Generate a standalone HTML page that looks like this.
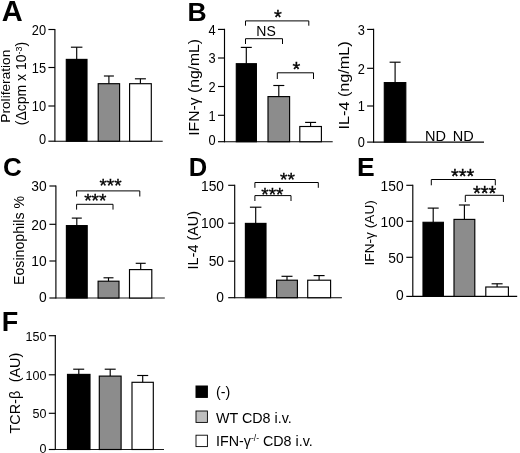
<!DOCTYPE html>
<html><head><meta charset="utf-8"><title>Figure</title>
<style>
html,body{margin:0;padding:0;background:#fff;}
svg{display:block;will-change:transform;font-family:"Liberation Sans",Arial,sans-serif;fill:#000;}
</style></head><body>
<svg width="520" height="453" viewBox="0 0 520 453">
<rect x="0" y="0" width="520" height="453" fill="#fff"/>
<line x1="54.9" y1="28.9" x2="54.9" y2="141.8" stroke="#000" stroke-width="1.15"/>
<line x1="54.9" y1="141.2" x2="162.7" y2="141.2" stroke="#000" stroke-width="1.15"/>
<line x1="48.4" y1="29.5" x2="54.9" y2="29.5" stroke="#000" stroke-width="1.15"/>
<text transform="translate(46.1 34.7) scale(0.93 1)" font-size="13.8" text-anchor="end" font-weight="normal">20</text>
<line x1="48.4" y1="67.5" x2="54.9" y2="67.5" stroke="#000" stroke-width="1.15"/>
<text transform="translate(46.1 72.7) scale(0.93 1)" font-size="13.8" text-anchor="end" font-weight="normal">15</text>
<line x1="48.4" y1="106.0" x2="54.9" y2="106.0" stroke="#000" stroke-width="1.15"/>
<text transform="translate(46.1 111.2) scale(0.93 1)" font-size="13.8" text-anchor="end" font-weight="normal">10</text>
<line x1="48.4" y1="141.2" x2="54.9" y2="141.2" stroke="#000" stroke-width="1.15"/>
<text transform="translate(46.1 144.4) scale(0.93 1)" font-size="13.8" text-anchor="end" font-weight="normal">0</text>
<line x1="76.7" y1="47.2" x2="76.7" y2="59.4" stroke="#000" stroke-width="1.15"/>
<line x1="70.9" y1="47.2" x2="82.4" y2="47.2" stroke="#000" stroke-width="1.15"/>
<rect x="66.3" y="59.4" width="20.7" height="81.8" fill="#000" stroke="#000" stroke-width="1.15"/>
<line x1="108.9" y1="76.0" x2="108.9" y2="83.7" stroke="#000" stroke-width="1.15"/>
<line x1="103.9" y1="76.0" x2="113.9" y2="76.0" stroke="#000" stroke-width="1.15"/>
<rect x="98.2" y="83.7" width="21.4" height="57.5" fill="#8c8c8c" stroke="#000" stroke-width="1.15"/>
<line x1="140.4" y1="78.8" x2="140.4" y2="83.7" stroke="#000" stroke-width="1.15"/>
<line x1="134.9" y1="78.8" x2="145.9" y2="78.8" stroke="#000" stroke-width="1.15"/>
<rect x="129.6" y="83.7" width="21.7" height="57.5" fill="#fff" stroke="#000" stroke-width="1.15"/>
<text transform="translate(1.8 20.6)" font-size="29" text-anchor="start" font-weight="bold">A</text>
<text transform="translate(9.9 86.2) rotate(-90)" font-size="13.7" text-anchor="middle" font-weight="normal">Proliferation</text>
<text transform="translate(26.3 83.5) rotate(-90)" font-size="14" text-anchor="middle" font-weight="normal">(Δcpm x 10<tspan font-size="9" dy="-4">-3</tspan><tspan dy="4">)</tspan></text>
<line x1="224.5" y1="28.8" x2="224.5" y2="142.3" stroke="#000" stroke-width="1.15"/>
<line x1="224.5" y1="141.7" x2="332.7" y2="141.7" stroke="#000" stroke-width="1.15"/>
<line x1="218.0" y1="29.4" x2="224.5" y2="29.4" stroke="#000" stroke-width="1.15"/>
<text transform="translate(215.7 34.6) scale(0.93 1)" font-size="13.8" text-anchor="end" font-weight="normal">4</text>
<line x1="218.0" y1="58.0" x2="224.5" y2="58.0" stroke="#000" stroke-width="1.15"/>
<text transform="translate(215.7 63.2) scale(0.93 1)" font-size="13.8" text-anchor="end" font-weight="normal">3</text>
<line x1="218.0" y1="86.5" x2="224.5" y2="86.5" stroke="#000" stroke-width="1.15"/>
<text transform="translate(215.7 91.7) scale(0.93 1)" font-size="13.8" text-anchor="end" font-weight="normal">2</text>
<line x1="218.0" y1="115.3" x2="224.5" y2="115.3" stroke="#000" stroke-width="1.15"/>
<text transform="translate(215.7 120.5) scale(0.93 1)" font-size="13.8" text-anchor="end" font-weight="normal">1</text>
<line x1="218.0" y1="141.7" x2="224.5" y2="141.7" stroke="#000" stroke-width="1.15"/>
<text transform="translate(215.7 144.6) scale(0.93 1)" font-size="13.8" text-anchor="end" font-weight="normal">0</text>
<line x1="246.3" y1="47.4" x2="246.3" y2="63.7" stroke="#000" stroke-width="1.15"/>
<line x1="240.8" y1="47.4" x2="251.8" y2="47.4" stroke="#000" stroke-width="1.15"/>
<rect x="236.3" y="63.7" width="20.1" height="78.0" fill="#000" stroke="#000" stroke-width="1.15"/>
<line x1="278.8" y1="85.5" x2="278.8" y2="96.6" stroke="#000" stroke-width="1.15"/>
<line x1="273.3" y1="85.5" x2="284.3" y2="85.5" stroke="#000" stroke-width="1.15"/>
<rect x="268.0" y="96.6" width="21.6" height="45.1" fill="#8c8c8c" stroke="#000" stroke-width="1.15"/>
<line x1="310.6" y1="122.4" x2="310.6" y2="126.5" stroke="#000" stroke-width="1.15"/>
<line x1="305.1" y1="122.4" x2="316.1" y2="122.4" stroke="#000" stroke-width="1.15"/>
<rect x="299.8" y="126.5" width="21.6" height="15.2" fill="#fff" stroke="#000" stroke-width="1.15"/>
<polyline points="245.5,25.7 245.5,20.9 308.8,20.9 308.8,25.7" fill="none" stroke="#000" stroke-width="1.0"/>
<text transform="translate(278.0 23.6)" font-size="20" text-anchor="middle" font-weight="normal" stroke="#000" stroke-width="0.35">*</text>
<polyline points="245.5,44.0 245.5,38.7 282.5,38.7 282.5,44.0" fill="none" stroke="#000" stroke-width="1.0"/>
<text transform="translate(266.0 36.3)" font-size="14" text-anchor="middle" font-weight="normal">NS</text>
<polyline points="277.3,79.0 277.3,72.8 313.5,72.8 313.5,79.0" fill="none" stroke="#000" stroke-width="1.0"/>
<text transform="translate(296.3 76.3)" font-size="20" text-anchor="middle" font-weight="normal" stroke="#000" stroke-width="0.35">*</text>
<text transform="translate(187.4 20.6)" font-size="26.5" text-anchor="start" font-weight="bold">B</text>
<text transform="translate(199.0 87.4) rotate(-90) scale(1.06 1)" font-size="14.8" text-anchor="middle" font-weight="normal">IFN-γ (ng/mL)</text>
<line x1="373.6" y1="28.8" x2="373.6" y2="142.7" stroke="#000" stroke-width="1.15"/>
<line x1="373.6" y1="142.1" x2="484.0" y2="142.1" stroke="#000" stroke-width="1.15"/>
<line x1="367.1" y1="29.4" x2="373.6" y2="29.4" stroke="#000" stroke-width="1.15"/>
<text transform="translate(364.8 34.6) scale(0.93 1)" font-size="13.8" text-anchor="end" font-weight="normal">3</text>
<line x1="367.1" y1="68.3" x2="373.6" y2="68.3" stroke="#000" stroke-width="1.15"/>
<text transform="translate(364.8 73.5) scale(0.93 1)" font-size="13.8" text-anchor="end" font-weight="normal">2</text>
<line x1="367.1" y1="106.0" x2="373.6" y2="106.0" stroke="#000" stroke-width="1.15"/>
<text transform="translate(364.8 111.2) scale(0.93 1)" font-size="13.8" text-anchor="end" font-weight="normal">1</text>
<line x1="367.1" y1="142.1" x2="373.6" y2="142.1" stroke="#000" stroke-width="1.15"/>
<text transform="translate(364.8 146.5) scale(0.93 1)" font-size="13.8" text-anchor="end" font-weight="normal">0</text>
<line x1="395.1" y1="62.2" x2="395.1" y2="82.6" stroke="#000" stroke-width="1.15"/>
<line x1="389.6" y1="62.2" x2="400.6" y2="62.2" stroke="#000" stroke-width="1.15"/>
<rect x="384.3" y="82.6" width="21.5" height="59.5" fill="#000" stroke="#000" stroke-width="1.15"/>
<text transform="translate(435.4 141.2)" font-size="14.5" text-anchor="middle" font-weight="normal">ND</text>
<text transform="translate(463.3 141.2)" font-size="14.5" text-anchor="middle" font-weight="normal">ND</text>
<text transform="translate(349.4 85.4) rotate(-90) scale(1.08 1)" font-size="15" text-anchor="middle" font-weight="normal">IL-4 (ng/mL)</text>
<line x1="55.9" y1="185.4" x2="55.9" y2="298.6" stroke="#000" stroke-width="1.15"/>
<line x1="55.9" y1="298.0" x2="164.8" y2="298.0" stroke="#000" stroke-width="0.9"/>
<line x1="49.4" y1="186.0" x2="55.9" y2="186.0" stroke="#000" stroke-width="1.15"/>
<text transform="translate(46.6 191.2)" font-size="13.8" text-anchor="end" font-weight="normal">30</text>
<line x1="49.4" y1="224.3" x2="55.9" y2="224.3" stroke="#000" stroke-width="1.15"/>
<text transform="translate(46.6 229.5)" font-size="13.8" text-anchor="end" font-weight="normal">20</text>
<line x1="49.4" y1="261.0" x2="55.9" y2="261.0" stroke="#000" stroke-width="1.15"/>
<text transform="translate(46.6 266.2)" font-size="13.8" text-anchor="end" font-weight="normal">10</text>
<line x1="49.4" y1="298.0" x2="55.9" y2="298.0" stroke="#000" stroke-width="1.15"/>
<text transform="translate(46.6 301.9)" font-size="13.8" text-anchor="end" font-weight="normal">0</text>
<line x1="76.8" y1="218.1" x2="76.8" y2="225.6" stroke="#000" stroke-width="1.15"/>
<line x1="71.8" y1="218.1" x2="81.8" y2="218.1" stroke="#000" stroke-width="1.15"/>
<rect x="66.4" y="225.6" width="20.8" height="72.4" fill="#000" stroke="#000" stroke-width="1.15"/>
<line x1="108.5" y1="277.8" x2="108.5" y2="281.2" stroke="#000" stroke-width="1.15"/>
<line x1="103.5" y1="277.8" x2="113.5" y2="277.8" stroke="#000" stroke-width="1.15"/>
<rect x="98.1" y="281.2" width="20.9" height="16.8" fill="#8c8c8c" stroke="#000" stroke-width="1.15"/>
<line x1="140.7" y1="263.3" x2="140.7" y2="269.6" stroke="#000" stroke-width="1.15"/>
<line x1="135.7" y1="263.3" x2="145.7" y2="263.3" stroke="#000" stroke-width="1.15"/>
<rect x="129.5" y="269.6" width="22.3" height="28.4" fill="#fff" stroke="#000" stroke-width="1.15"/>
<polyline points="76.6,196.5 76.6,190.9 139.8,190.9 139.8,196.5" fill="none" stroke="#000" stroke-width="1.0"/>
<text transform="translate(110.5 192.3)" font-size="19" text-anchor="middle" font-weight="normal" stroke="#000" stroke-width="0.35">***</text>
<polyline points="76.6,209.6 76.6,204.3 113.0,204.3 113.0,209.6" fill="none" stroke="#000" stroke-width="1.0"/>
<text transform="translate(95.3 207.1)" font-size="19" text-anchor="middle" font-weight="normal" stroke="#000" stroke-width="0.35">***</text>
<text transform="translate(3.0 176.3)" font-size="26" text-anchor="start" font-weight="bold">C</text>
<text transform="translate(24.0 240.5) rotate(-90)" font-size="14.2" text-anchor="middle" font-weight="normal">Eosinophils %</text>
<line x1="234.7" y1="184.7" x2="234.7" y2="298.3" stroke="#000" stroke-width="1.15"/>
<line x1="234.7" y1="297.7" x2="341.9" y2="297.7" stroke="#000" stroke-width="1.15"/>
<line x1="228.2" y1="185.3" x2="234.7" y2="185.3" stroke="#000" stroke-width="1.15"/>
<text transform="translate(224.0 190.5)" font-size="13.8" text-anchor="end" font-weight="normal">150</text>
<line x1="228.2" y1="223.2" x2="234.7" y2="223.2" stroke="#000" stroke-width="1.15"/>
<text transform="translate(224.0 228.4)" font-size="13.8" text-anchor="end" font-weight="normal">100</text>
<line x1="228.2" y1="261.2" x2="234.7" y2="261.2" stroke="#000" stroke-width="1.15"/>
<text transform="translate(224.0 266.4)" font-size="13.8" text-anchor="end" font-weight="normal">50</text>
<line x1="228.2" y1="297.7" x2="234.7" y2="297.7" stroke="#000" stroke-width="1.15"/>
<text transform="translate(224.0 302.2)" font-size="13.8" text-anchor="end" font-weight="normal">0</text>
<line x1="255.7" y1="207.2" x2="255.7" y2="223.4" stroke="#000" stroke-width="1.15"/>
<line x1="249.9" y1="207.2" x2="261.4" y2="207.2" stroke="#000" stroke-width="1.15"/>
<rect x="245.4" y="223.4" width="20.6" height="74.3" fill="#000" stroke="#000" stroke-width="1.15"/>
<line x1="287.0" y1="276.3" x2="287.0" y2="280.2" stroke="#000" stroke-width="1.15"/>
<line x1="281.5" y1="276.3" x2="292.5" y2="276.3" stroke="#000" stroke-width="1.15"/>
<rect x="276.6" y="280.2" width="20.8" height="17.5" fill="#8c8c8c" stroke="#000" stroke-width="1.15"/>
<line x1="319.1" y1="275.6" x2="319.1" y2="280.2" stroke="#000" stroke-width="1.15"/>
<line x1="313.6" y1="275.6" x2="324.6" y2="275.6" stroke="#000" stroke-width="1.15"/>
<rect x="307.7" y="280.2" width="22.9" height="17.5" fill="#fff" stroke="#000" stroke-width="1.15"/>
<polyline points="254.9,187.8 254.9,182.5 318.3,182.5 318.3,187.8" fill="none" stroke="#000" stroke-width="1.0"/>
<text transform="translate(287.5 186.1)" font-size="19" text-anchor="middle" font-weight="normal" stroke="#000" stroke-width="0.35">**</text>
<polyline points="254.9,201.0 254.9,195.6 291.0,195.6 291.0,201.0" fill="none" stroke="#000" stroke-width="1.0"/>
<text transform="translate(272.4 200.8)" font-size="19" text-anchor="middle" font-weight="normal" stroke="#000" stroke-width="0.35">***</text>
<text transform="translate(188.7 176.3)" font-size="25.5" text-anchor="start" font-weight="bold">D</text>
<text transform="translate(197.8 240.2) rotate(-90)" font-size="14.4" text-anchor="middle" font-weight="normal">IL-4 (AU)</text>
<line x1="412.8" y1="184.7" x2="412.8" y2="297.0" stroke="#000" stroke-width="1.15"/>
<line x1="412.8" y1="296.4" x2="517.2" y2="296.4" stroke="#000" stroke-width="1.15"/>
<line x1="406.3" y1="185.3" x2="412.8" y2="185.3" stroke="#000" stroke-width="1.15"/>
<text transform="translate(403.6 190.5)" font-size="13.8" text-anchor="end" font-weight="normal">150</text>
<line x1="406.3" y1="221.3" x2="412.8" y2="221.3" stroke="#000" stroke-width="1.15"/>
<text transform="translate(403.6 226.5)" font-size="13.8" text-anchor="end" font-weight="normal">100</text>
<line x1="406.3" y1="257.3" x2="412.8" y2="257.3" stroke="#000" stroke-width="1.15"/>
<text transform="translate(403.6 262.5)" font-size="13.8" text-anchor="end" font-weight="normal">50</text>
<line x1="406.3" y1="296.4" x2="412.8" y2="296.4" stroke="#000" stroke-width="1.15"/>
<text transform="translate(403.6 300.3)" font-size="13.8" text-anchor="end" font-weight="normal">0</text>
<line x1="433.2" y1="208.1" x2="433.2" y2="222.3" stroke="#000" stroke-width="1.15"/>
<line x1="427.7" y1="208.1" x2="438.7" y2="208.1" stroke="#000" stroke-width="1.15"/>
<rect x="423.0" y="222.3" width="20.4" height="74.1" fill="#000" stroke="#000" stroke-width="1.15"/>
<line x1="464.4" y1="205.0" x2="464.4" y2="219.4" stroke="#000" stroke-width="1.15"/>
<line x1="458.9" y1="205.0" x2="469.9" y2="205.0" stroke="#000" stroke-width="1.15"/>
<rect x="454.0" y="219.4" width="20.8" height="77.0" fill="#8c8c8c" stroke="#000" stroke-width="1.15"/>
<line x1="497.1" y1="283.8" x2="497.1" y2="287.0" stroke="#000" stroke-width="1.15"/>
<line x1="491.6" y1="283.8" x2="502.6" y2="283.8" stroke="#000" stroke-width="1.15"/>
<rect x="485.8" y="287.0" width="22.6" height="9.4" fill="#fff" stroke="#000" stroke-width="1.15"/>
<polyline points="431.3,185.3 431.3,179.5 495.3,179.5 495.3,185.3" fill="none" stroke="#000" stroke-width="1.0"/>
<text transform="translate(462.6 182.9)" font-size="20" text-anchor="middle" font-weight="normal" stroke="#000" stroke-width="0.35">***</text>
<polyline points="465.3,202.0 465.3,195.3 503.4,195.3 503.4,202.0" fill="none" stroke="#000" stroke-width="1.0"/>
<text transform="translate(484.7 200.0)" font-size="20" text-anchor="middle" font-weight="normal" stroke="#000" stroke-width="0.35">***</text>
<text transform="translate(357.0 176.4)" font-size="26.5" text-anchor="start" font-weight="bold">E</text>
<text transform="translate(373.6 232.8) rotate(-90)" font-size="13.7" text-anchor="middle" font-weight="normal">IFN-γ (AU)</text>
<line x1="55.3" y1="335.1" x2="55.3" y2="450.1" stroke="#000" stroke-width="1.15"/>
<line x1="55.3" y1="449.5" x2="164.0" y2="449.5" stroke="#000" stroke-width="0.9"/>
<line x1="48.8" y1="335.7" x2="55.3" y2="335.7" stroke="#000" stroke-width="1.15"/>
<text transform="translate(46.5 340.8) scale(0.93 1)" font-size="13.5" text-anchor="end" font-weight="normal">150</text>
<line x1="48.8" y1="374.8" x2="55.3" y2="374.8" stroke="#000" stroke-width="1.15"/>
<text transform="translate(46.5 379.9) scale(0.93 1)" font-size="13.5" text-anchor="end" font-weight="normal">100</text>
<line x1="48.8" y1="413.3" x2="55.3" y2="413.3" stroke="#000" stroke-width="1.15"/>
<text transform="translate(46.5 418.4) scale(0.93 1)" font-size="13.5" text-anchor="end" font-weight="normal">50</text>
<line x1="48.8" y1="449.5" x2="55.3" y2="449.5" stroke="#000" stroke-width="1.15"/>
<text transform="translate(46.5 453.3) scale(0.93 1)" font-size="13.5" text-anchor="end" font-weight="normal">0</text>
<line x1="78.8" y1="369.2" x2="78.8" y2="374.4" stroke="#000" stroke-width="1.15"/>
<line x1="73.2" y1="369.2" x2="84.2" y2="369.2" stroke="#000" stroke-width="1.15"/>
<rect x="67.5" y="374.4" width="22.5" height="75.1" fill="#000" stroke="#000" stroke-width="1.15"/>
<line x1="110.2" y1="369.2" x2="110.2" y2="376.1" stroke="#000" stroke-width="1.15"/>
<line x1="104.7" y1="369.2" x2="115.7" y2="369.2" stroke="#000" stroke-width="1.15"/>
<rect x="99.3" y="376.1" width="21.8" height="73.4" fill="#8c8c8c" stroke="#000" stroke-width="1.15"/>
<line x1="142.7" y1="375.5" x2="142.7" y2="382.3" stroke="#000" stroke-width="1.15"/>
<line x1="137.2" y1="375.5" x2="148.2" y2="375.5" stroke="#000" stroke-width="1.15"/>
<rect x="132.0" y="382.3" width="21.3" height="67.2" fill="#fff" stroke="#000" stroke-width="1.15"/>
<text transform="translate(1.8 331.0)" font-size="27" text-anchor="start" font-weight="bold">F</text>
<text transform="translate(20.3 393.1) rotate(-90)" font-size="14.4" text-anchor="middle" font-weight="normal">TCR-β<tspan dx="4.5"> (AU)</tspan></text>
<rect x="196.0" y="386.0" width="11.4" height="11.4" fill="#000" stroke="#000" stroke-width="1"/>
<rect x="196.0" y="411.0" width="11.4" height="11.4" fill="#bfbfbf" stroke="#000" stroke-width="0.9"/>
<rect x="196.0" y="435.2" width="11.4" height="11.4" fill="#fff" stroke="#000" stroke-width="0.9"/>
<text transform="translate(216.0 397.4)" font-size="14.3" text-anchor="start" font-weight="normal">(-)</text>
<text transform="translate(216.0 422.5)" font-size="14.3" text-anchor="start" font-weight="normal">WT CD8 i.v.</text>
<text transform="translate(216.0 446.4)" font-size="14.3" text-anchor="start" font-weight="normal">IFN-γ<tspan font-size="8.5" dy="-5">-/-</tspan><tspan dy="5"> CD8 i.v.</tspan></text>
</svg>
</body></html>
